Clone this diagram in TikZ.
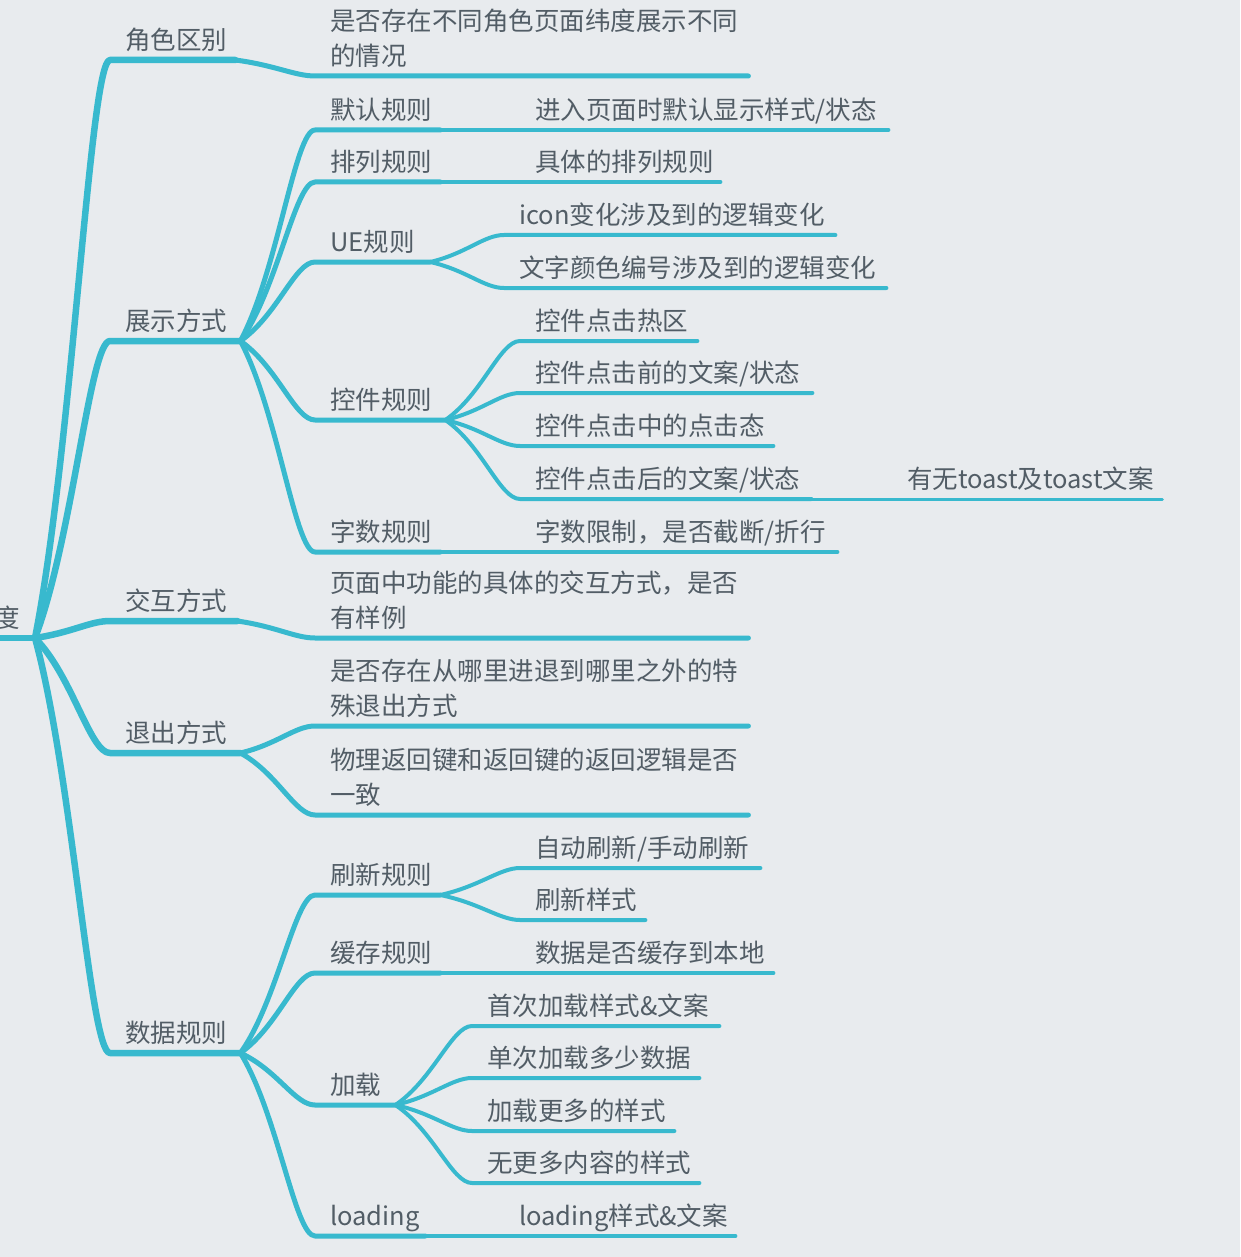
\documentclass[tikz,border=0pt]{standalone}
\usepackage{fontspec}
\setmainfont{Noto Sans CJK SC}
\usepackage{xcolor}
\usepackage{tikz}
\usetikzlibrary{calc}

\definecolor{bgc}{RGB}{232,235,238}
\definecolor{linec}{RGB}{56,185,206}
\definecolor{txtc}{RGB}{82,93,102}

\begin{document}
\begin{tikzpicture}[
    x=1pt, y=-1pt,
    topic/.style={anchor=south west, inner xsep=15pt, inner ysep=7pt, align=left, text depth=3pt, text=txtc, font=\fontsize{25.5}{35}\selectfont},
    twoline/.style={text depth=38pt},
    link/.style={draw=linec, line cap=round, line join=round, to path={let \p1=(\tikztostart), \p2=(\tikztotarget) in .. controls ({\x1+0.5*(\x2-\x1)},{\y1+0.33*(\y2-\y1)}) and ([xshift=-20pt]\tikztotarget) .. (\tikztotarget)}},
    lone/.style={link, line width=6.5pt},
    ltwo/.style={link, line width=5pt},
    lthree/.style={link, line width=4pt},
    lfour/.style={link, line width=3pt}
]
\fill[bgc] (0,0) rectangle (1240,1257);
\useasboundingbox (0,0) rectangle (1240,1257);

% root and first level
\node[topic, anchor=south east] (root) at (35,638) {度};
\node[topic, text width=95pt] (role) at (110,60) {角色区别};
\node[topic, text width=100pt] (show) at (110,341) {展示方式};
\node[topic, text width=97pt] (inter) at (110,621) {交互方式};
\node[topic, text width=100pt] (exitw) at (110,753) {退出方式};
\node[topic, text width=100pt] (data) at (110,1053) {数据规则};

% second level
\node[topic, twoline, text width=403pt] (role-a) at (315,76) {是否存在不同角色页面纬度展示不同\\的情况};
\node[topic, text width=95pt] (dflt) at (315,130) {默认规则};
\node[topic, text width=95pt] (sort) at (315,182) {排列规则};
\node[topic, text width=85pt] (ue) at (315,262) {UE规则};
\node[topic, text width=100pt] (ctrl) at (315,420) {控件规则};
\node[topic, text width=95pt] (words) at (315,552) {字数规则};
\node[topic, twoline, text width=403pt] (inter-a) at (315,638) {页面中功能的具体的交互方式，是否\\有样例};
\node[topic, twoline, text width=403pt] (exit-a) at (315,726) {是否存在从哪里进退到哪里之外的特\\殊退出方式};
\node[topic, twoline, text width=403pt] (exit-b) at (315,815) {物理返回键和返回键的返回逻辑是否\\一致};
\node[topic, text width=95pt] (fresh) at (315,895) {刷新规则};
\node[topic, text width=95pt] (cache) at (315,973) {缓存规则};
\node[topic, text width=50pt] (load) at (315,1105) {加载};
\node[topic, text width=80pt] (ldg) at (315,1236) {loading};

% third level
\node[topic, text width=338pt] (dflt-a) at (520,130) {进入页面时默认显示样式/状态};
\node[topic, text width=170pt] (sort-a) at (520,182) {具体的排列规则};
\node[topic, text width=301pt] (ue-a) at (504,235) {icon变化涉及到的逻辑变化};
\node[topic, text width=352pt] (ue-b) at (504,288) {文字颜色编号涉及到的逻辑变化};
\node[topic, text width=147pt] (ctrl-a) at (520,341) {控件点击热区};
\node[topic, text width=262pt] (ctrl-b) at (520,393) {控件点击前的文案/状态};
\node[topic, text width=223pt] (ctrl-c) at (520,446) {控件点击中的点击态};
\node[topic, text width=261pt] (ctrl-d) at (520,499) {控件点击后的文案/状态};
\node[topic, text width=240pt] (toast) at (892,499) {有无toast及toast文案};
\node[topic, text width=287pt] (words-a) at (520,552) {字数限制，是否截断/折行};
\node[topic, text width=210pt] (fresh-a) at (520,868) {自动刷新/手动刷新};
\node[topic, text width=95pt] (fresh-b) at (520,920) {刷新样式};
\node[topic, text width=223pt] (cache-a) at (520,973) {数据是否缓存到本地};
\node[topic, text width=217pt] (load-a) at (472,1026) {首次加载样式\&文案};
\node[topic, text width=197pt] (load-b) at (472,1078) {单次加载多少数据};
\node[topic, text width=172pt] (load-c) at (472,1131) {加载更多的样式};
\node[topic, text width=197pt] (load-d) at (472,1183) {无更多内容的样式};
\node[topic, text width=201pt] (ldg-a) at (504,1236) {loading样式\&文案};

% branches with their underlines
\draw[lone] (root.south west) -- (root.south east);
\draw[lone] (root.south east) to (role.south west) -- (role.south east);
\draw[lone] (root.south east) to (show.south west) -- (show.south east);
\draw[lone] (root.south east) to (inter.south west) -- (inter.south east);
\draw[lone] (root.south east) to (exitw.south west) -- (exitw.south east);
\draw[lone] (root.south east) to (data.south west) -- (data.south east);

\draw[ltwo] (role.south east) to (role-a.south west) -- (role-a.south east);
\draw[ltwo] (show.south east) to (dflt.south west) -- (dflt.south east);
\draw[ltwo] (show.south east) to (sort.south west) -- (sort.south east);
\draw[ltwo] (show.south east) to (ue.south west) -- (ue.south east);
\draw[ltwo] (show.south east) to (ctrl.south west) -- (ctrl.south east);
\draw[ltwo] (show.south east) to (words.south west) -- (words.south east);
\draw[ltwo] (inter.south east) to (inter-a.south west) -- (inter-a.south east);
\draw[ltwo] (exitw.south east) to (exit-a.south west) -- (exit-a.south east);
\draw[ltwo] (exitw.south east) to (exit-b.south west) -- (exit-b.south east);
\draw[ltwo] (data.south east) to (fresh.south west) -- (fresh.south east);
\draw[ltwo] (data.south east) to (cache.south west) -- (cache.south east);
\draw[ltwo] (data.south east) to (load.south west) -- (load.south east);
\draw[ltwo] (data.south east) to (ldg.south west) -- (ldg.south east);

\draw[lthree] (dflt.south east) to (dflt-a.south west) -- (dflt-a.south east);
\draw[lthree] (sort.south east) to (sort-a.south west) -- (sort-a.south east);
\draw[lthree] (ue.south east) to (ue-a.south west) -- (ue-a.south east);
\draw[lthree] (ue.south east) to (ue-b.south west) -- (ue-b.south east);
\draw[lthree] (ctrl.south east) to (ctrl-a.south west) -- (ctrl-a.south east);
\draw[lthree] (ctrl.south east) to (ctrl-b.south west) -- (ctrl-b.south east);
\draw[lthree] (ctrl.south east) to (ctrl-c.south west) -- (ctrl-c.south east);
\draw[lthree] (ctrl.south east) to (ctrl-d.south west) -- (ctrl-d.south east);
\draw[lfour] (ctrl-d.south east) to (toast.south west) -- (toast.south east);
\draw[lthree] (words.south east) to (words-a.south west) -- (words-a.south east);
\draw[lthree] (fresh.south east) to (fresh-a.south west) -- (fresh-a.south east);
\draw[lthree] (fresh.south east) to (fresh-b.south west) -- (fresh-b.south east);
\draw[lthree] (cache.south east) to (cache-a.south west) -- (cache-a.south east);
\draw[lthree] (load.south east) to (load-a.south west) -- (load-a.south east);
\draw[lthree] (load.south east) to (load-b.south west) -- (load-b.south east);
\draw[lthree] (load.south east) to (load-c.south west) -- (load-c.south east);
\draw[lthree] (load.south east) to (load-d.south west) -- (load-d.south east);
\draw[lthree] (ldg.south east) to (ldg-a.south west) -- (ldg-a.south east);
\end{tikzpicture}
\end{document}
